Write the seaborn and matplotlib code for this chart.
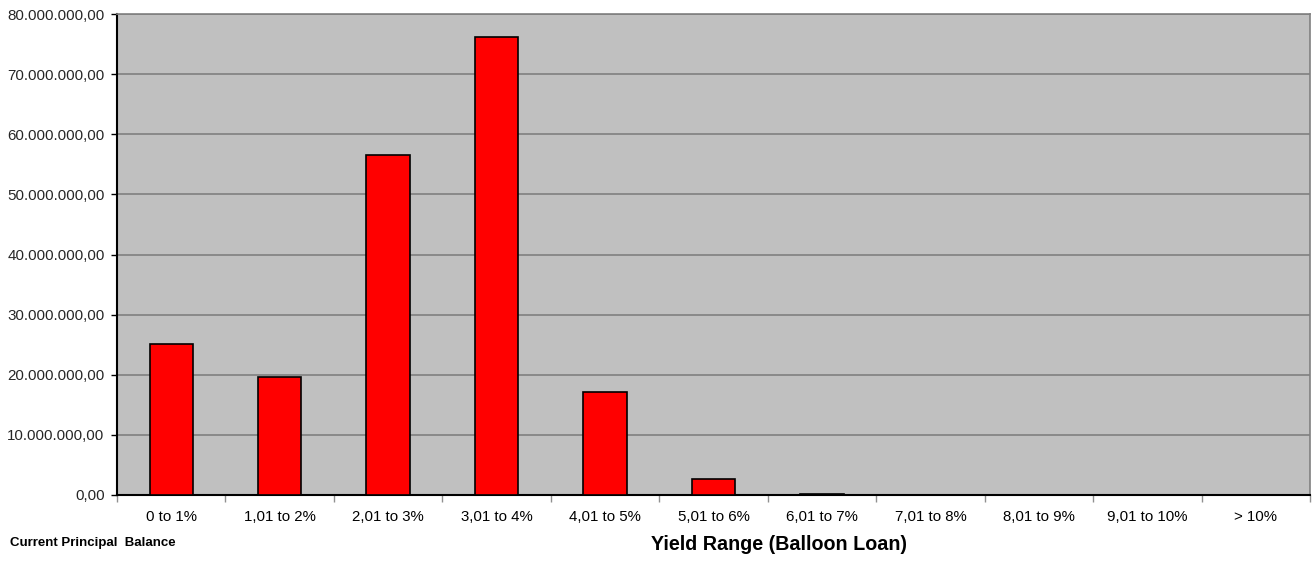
import matplotlib
matplotlib.use("Agg")
import matplotlib.pyplot as plt
import matplotlib.ticker as mticker
import seaborn as sns
import pandas as pd

# Yield buckets and current principal balance per bucket
categories = ["0 to 1%", "1,01 to 2%", "2,01 to 3%", "3,01 to 4%", "4,01 to 5%",
              "5,01 to 6%", "6,01 to 7%", "7,01 to 8%", "8,01 to 9%",
              "9,01 to 10%", "> 10%"]
balances = [25_100_000, 19_700_000, 56_500_000, 76_250_000, 17_200_000,
            2_650_000, 150_000, 50_000, 0, 0, 0]
y_ticks = [0, 10_000_000, 20_000_000, 30_000_000, 40_000_000,
           50_000_000, 60_000_000, 70_000_000, 80_000_000]

df = pd.DataFrame({"range": categories, "balance": balances})

sns.set_theme(style="white")
plt.rcParams["font.family"] = ["Liberation Sans", "DejaVu Sans"]

W, H = 1313, 561
fig = plt.figure(figsize=(W / 100, H / 100), dpi=100)
ax = fig.add_axes([117 / W, 1 - 495 / H, (1310 - 117) / W, (495 - 14) / H])
ax.set_facecolor("#C0C0C0")

sns.barplot(data=df, x="range", y="balance", order=categories, color="#FF0000",
            saturation=1, width=0.4, edgecolor="black", linewidth=1.2, ax=ax,
            zorder=3)

ax.set_xlim(-0.5, len(categories) - 0.5)
ax.set_ylim(0, 80_000_000)
ax.set_yticks(y_ticks)


def fmt(v, _pos):
    s = f"{v:,.2f}"
    return s.replace(",", "X").replace(".", ",").replace("X", ".")


ax.yaxis.set_major_formatter(mticker.FuncFormatter(fmt))
ax.yaxis.grid(True, color="#808080", linewidth=1.2, zorder=0)
ax.xaxis.grid(False)
ax.set_axisbelow(True)

# category boundaries carry the x tick marks, labels sit at centres
ax.set_xticks([i for i in range(len(categories))])
ax.set_xticklabels(categories)
ax.tick_params(axis="x", which="major", length=0, pad=11, labelsize=10.8,
               colors="black")
ax.set_xticks([i - 0.5 for i in range(len(categories) + 1)], minor=True)
ax.tick_params(axis="x", which="minor", length=5, width=1, color="#909090",
               direction="out", bottom=True)
ax.tick_params(axis="y", length=4, width=1, color="black", direction="out",
               pad=5, labelsize=10.9, left=True)

for side in ["left", "bottom"]:
    ax.spines[side].set_color("black")
    ax.spines[side].set_linewidth(1.5)
for side in ["top", "right"]:
    ax.spines[side].set_visible(True)
    ax.spines[side].set_color("#808080")
    ax.spines[side].set_linewidth(1.2)

ax.set_xlabel("")
ax.set_ylabel("")

fig.text(10 / W, 1 - 543 / H, "Current Principal  Balance", fontsize=9.5,
         fontweight="bold", ha="left", va="center", color="black")
fig.text(779 / W, 1 - 545 / H, "Yield Range (Balloon Loan)", fontsize=14.2,
         fontweight="bold", ha="center", va="center", color="black")

fig.savefig("out.png", dpi=100, facecolor="white")
